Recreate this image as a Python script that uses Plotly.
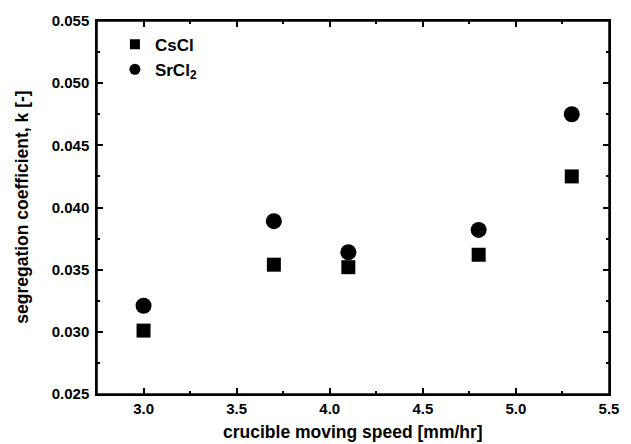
import plotly.graph_objects as go

# crucible moving speed [mm/hr]
speed = [3.0, 3.7, 4.1, 4.8, 5.3]
# segregation coefficients
k_cscl = [0.0301, 0.0354, 0.0352, 0.0362, 0.0425]
k_srcl2 = [0.0321, 0.0389, 0.0364, 0.0382, 0.0475]

fig = go.Figure()
fig.add_trace(go.Scatter(x=speed, y=k_cscl, mode="markers", name="CsCl", showlegend=False,
                         marker=dict(symbol="square", size=14, color="black")))
fig.add_trace(go.Scatter(x=speed, y=k_srcl2, mode="markers", name="SrCl<sub>2</sub>", showlegend=False,
                         marker=dict(symbol="circle", size=16, color="black")))
# legend entries use smaller symbols, as in the original
fig.add_trace(go.Scatter(x=[None], y=[None], mode="markers", name="CsCl",
                         marker=dict(symbol="square", size=10, color="black")))
fig.add_trace(go.Scatter(x=[None], y=[None], mode="markers", name="SrCl<sub>2</sub>",
                         marker=dict(symbol="circle", size=11, color="black")))

font = "Liberation Sans, Arial, sans-serif"
axis_common = dict(showline=True, linecolor="black", linewidth=1.5, mirror="allticks",
                   ticks="inside", ticklen=6, tickwidth=1.5, tickcolor="black",
                   showgrid=False, zeroline=False,
                   tickfont=dict(family=font, size=15, color="black", weight="bold"))

fig.update_layout(
    width=631, height=444,
    margin=dict(l=97, r=18, t=17, b=50),
    paper_bgcolor="white", plot_bgcolor="white",
    font=dict(family=font, color="black"),
    legend=dict(x=0.035, y=0.985, xanchor="left", yanchor="top",
                bgcolor="rgba(0,0,0,0)", font=dict(size=17, family=font, weight="bold"),
                tracegroupgap=0),
    xaxis=dict(range=[2.75, 5.5], dtick=0.5, tick0=0, tickformat=".1f",
               minor=dict(ticks="inside", ticklen=3, dtick=0.25, tick0=0, tickcolor="black"),
               **axis_common),
    yaxis=dict(range=[0.025, 0.055], dtick=0.005, tick0=0, tickformat=".3f",
               ticklabelstandoff=3,
               minor=dict(ticks="inside", ticklen=3, dtick=0.0025, tick0=0, tickcolor="black"),
               **axis_common),
)
# axis titles
fig.add_annotation(text="crucible moving speed [mm/hr]", xref="paper", yref="paper",
                   x=0.5, y=-0.102, xanchor="center", yanchor="middle", showarrow=False,
                   font=dict(size=17.5, weight="bold", family=font))
fig.add_annotation(text="segregation coefficient, k [-]", xref="paper", yref="paper",
                   x=-0.148, y=0.5, xanchor="center", yanchor="middle", showarrow=False,
                   textangle=-90, font=dict(size=17.5, weight="bold", family=font))
# frame around the plot area
fig.add_shape(type="rect", xref="paper", yref="paper", x0=0, y0=0, x1=1, y1=1,
              line=dict(color="black", width=1.5), layer="above")

# remove the default page margin so the 631x444 figure fits the window
fig.write_html("out.html", config={"displayModeBar": False},
               post_script="document.body.style.margin='0';")
